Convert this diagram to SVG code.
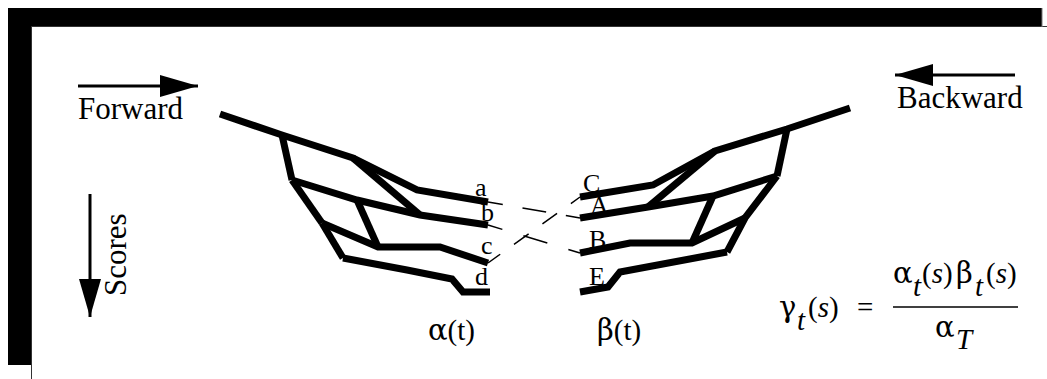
<svg xmlns="http://www.w3.org/2000/svg" width="1047" height="379" viewBox="0 0 1047 379">
<defs>
<marker id="ah" viewBox="0 0 38 22" refX="38" refY="11" markerWidth="38" markerHeight="22" markerUnits="userSpaceOnUse" orient="auto">
<path d="M0,0 L38,11 L0,22 z" fill="#000"/>
</marker>
</defs>
<style>
.t{font-family:"Liberation Serif","Times New Roman",serif;fill:#000}
.big{font-size:31px}
.lab{font-size:26px}
.f{font-size:29px}
.g{font-family:"DejaVu Serif","Liberation Serif",serif}
.i{font-style:italic}
.lat{fill:none;stroke:#000;stroke-width:7;stroke-linejoin:miter;stroke-linecap:butt}
.dash{fill:none;stroke:#000;stroke-width:1.5}
.arr{stroke:#000;stroke-width:3;fill:none}
</style>
<rect width="1047" height="379" fill="#fff"/>
<g id="frame">
<rect x="8" y="8" width="1034" height="19" fill="#000"/>
<rect x="8" y="8" width="23" height="357" fill="#000"/>
<line x1="31.5" y1="26" x2="31.5" y2="379" stroke="#333" stroke-width="1"/>
<line x1="31" y1="26.5" x2="1047" y2="26.5" stroke="#333" stroke-width="1"/>
<line x1="1042" y1="8" x2="1042" y2="27" stroke="#777" stroke-width="1"/>
</g>
<g id="direction-arrows">
<line class="arr" x1="78" y1="86" x2="198" y2="86" marker-end="url(#ah)"/>
<line class="arr" x1="1015" y1="75" x2="895" y2="75" marker-end="url(#ah)"/>
<line class="arr" x1="90" y1="194" x2="90" y2="317" marker-end="url(#ah)"/>
<text class="t big" x="78" y="119">Forward</text>
<text class="t big" x="897" y="108">Backward</text>
<text class="t big" transform="translate(126,296) rotate(-90)">Scores</text>
</g>
<g id="state-labels">
<text class="t lab" x="475" y="196">a</text>
<text class="t lab" x="481" y="221">b</text>
<text class="t lab" x="481" y="254">c</text>
<text class="t lab" x="475" y="285">d</text>
<text class="t lab" x="583" y="192">C</text>
<text class="t lab" x="590" y="214">A</text>
<text class="t lab" x="589" y="248">B</text>
<text class="t lab" x="589" y="285">E</text>
</g>
<g id="connectors">
<line class="dash" x1="488" y1="202" x2="580" y2="218" stroke-dasharray="24 20" stroke-dashoffset="9"/>
<line class="dash" x1="488" y1="225" x2="580" y2="253" stroke-dasharray="25 22" stroke-dashoffset="10"/>
<line class="dash" x1="488" y1="263" x2="580" y2="197" stroke-dasharray="18 17" stroke-dashoffset="3"/>
</g>
<g id="alpha-lattice">
<polyline class="lat" points="220,114 282,135 353,158 417,190 488,202"/>
<polyline class="lat" points="353,158 420,215"/>
<polyline class="lat" points="282,135 292,180"/>
<polyline class="lat" points="292,180 357,200 420,215 488,225"/>
<polyline class="lat" points="292,180 322,223"/>
<polyline class="lat" points="357,200 378,247"/>
<polyline class="lat" points="322,223 378,247 440,247 488,263"/>
<polyline class="lat" points="322,223 343,258"/>
<polyline class="lat" points="343,258 407,270 452,279 463,292 490,292"/>
</g>
<g id="beta-lattice">
<polyline class="lat" points="850,108 787,129 715,151 653,185 580,197"/>
<polyline class="lat" points="715,151 648,207"/>
<polyline class="lat" points="787,129 777,176"/>
<polyline class="lat" points="777,176 713,196 648,207 580,218"/>
<polyline class="lat" points="777,176 745,218 727,252"/>
<polyline class="lat" points="713,196 692,243"/>
<polyline class="lat" points="745,218 692,243 630,243 580,253"/>
<polyline class="lat" points="727,252 620,272 608,287 580,292"/>
</g>
<g id="axis-labels">
<text class="t f" x="428" y="340"><tspan class="g">α</tspan>(t)</text>
<text class="t f" x="597" y="340"><tspan class="g">β</tspan>(t)</text>
</g>
<g id="formula">
<text class="t f"><tspan class="g" x="779" y="317">γ</tspan><tspan class="i" x="797" y="330">t</tspan><tspan x="808" y="317">(</tspan><tspan class="i">s</tspan><tspan>)</tspan></text>
<text class="t f" x="857" y="317">=</text>
<line x1="893" y1="307" x2="1018" y2="307" stroke="#000" stroke-width="1.5"/>
<text class="t f"><tspan class="g" x="893" y="283">α</tspan><tspan class="i" x="913" y="296">t</tspan><tspan x="922" y="283">(</tspan><tspan class="i">s</tspan><tspan>)</tspan><tspan class="g" x="956" y="283">β</tspan><tspan class="i" x="975" y="296">t</tspan><tspan x="986" y="283">(</tspan><tspan class="i">s</tspan><tspan>)</tspan></text>
<text class="t f"><tspan class="g" x="935" y="337">α</tspan><tspan class="i" x="956" y="349">T</tspan></text>
</g>
</svg>
